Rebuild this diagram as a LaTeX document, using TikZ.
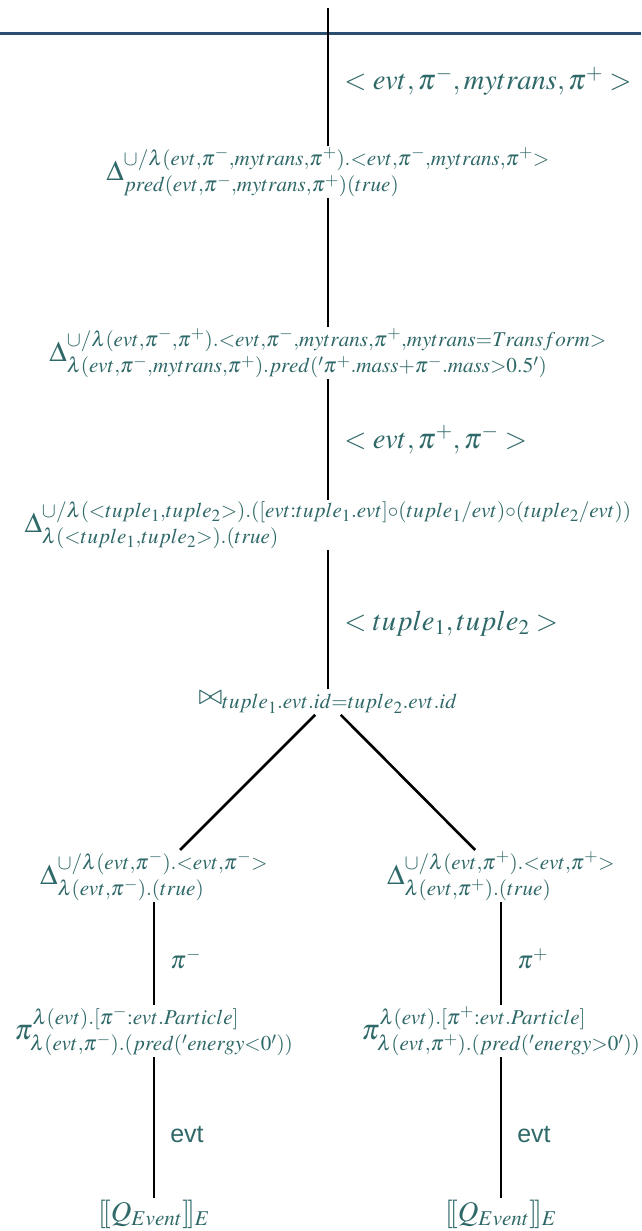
\documentclass[tikz,border=0pt]{standalone}
\usepackage[no-math]{fontspec}
\usepackage{mathptmx}
\setmainfont{Liberation Serif}
\newfontfamily\lblsans{Liberation Sans}
\definecolor{tealtxt}{RGB}{47,104,104}
\definecolor{bluebar}{RGB}{44,78,112}
\begin{document}
\begin{tikzpicture}[x=1pt,y=-1pt,
  txt/.style={text=tealtxt, inner sep=1.5pt, font=\fontsize{28.5}{34}\selectfont},
  lbl/.style={txt, anchor=west, inner sep=0pt, xshift=15pt},
  small/.style={font=\fontsize{25}{30}\selectfont},
  sanslbl/.style={font=\fontsize{25}{30}\lblsans},
  edge/.style={draw=black, line width=2.6pt}]
\useasboundingbox (0,0) rectangle (641,1231);
\fill[white] (0,0) rectangle (641,1231);
% header rule
\draw[bluebar, line width=3pt] (0,34) -- (641,34);
\coordinate (top) at (328,8);
% operator nodes along the main branch
\node[txt] (d1) at (328,172) {$\Delta^{\cup/\lambda(evt,\pi^-,mytrans,\pi^+).<evt,\pi^-,mytrans,\pi^+>}_{pred(evt,\pi^-,mytrans,\pi^+)(true)}$};
\node[txt] (d2) at (328,353) {$\Delta^{\cup/\lambda(evt,\pi^-,\pi^+).<evt,\pi^-,mytrans,\pi^+,mytrans=Transform>}_{\lambda(evt,\pi^-,mytrans,\pi^+).pred('\pi^+.mass+\pi^-.mass>0.5')}$};
\node[txt] (d3) at (328,525) {$\Delta^{\cup/\lambda(<tuple_1,tuple_2>).([evt:tuple_1.evt]\circ(tuple_1/evt)\circ(tuple_2/evt))}_{\lambda(<tuple_1,tuple_2>).(true)}$};
\node[txt] (join) at (328,702) {$\bowtie_{tuple_1.evt.id=tuple_2.evt.id}$};
% left branch
\node[txt] (d4) at (154,876) {$\Delta^{\cup/\lambda(evt,\pi^-).<evt,\pi^->}_{\lambda(evt,\pi^-).(true)}$};
\node[txt] (p4) at (154,1031) {$\pi^{\lambda(evt).[\pi^-:evt.Particle]}_{\lambda(evt,\pi^-).(pred('energy<0'))}$};
\node[txt] (q4) at (154,1214) {$[\![Q_{Event}]\!]_E$};
% right branch
\node[txt] (d5) at (501,876) {$\Delta^{\cup/\lambda(evt,\pi^+).<evt,\pi^+>}_{\lambda(evt,\pi^+).(true)}$};
\node[txt] (p5) at (501,1031) {$\pi^{\lambda(evt).[\pi^+:evt.Particle]}_{\lambda(evt,\pi^+).(pred('energy>0'))}$};
\node[txt] (q5) at (501,1214) {$[\![Q_{Event}]\!]_E$};
% connectors
\draw[edge] (top) -- node[lbl, yshift=-4pt]{$<evt,\pi^-,mytrans,\pi^+>$} (d1);
\draw[edge] (d1) -- (d2);
\draw[edge] (d2) -- node[lbl]{$<evt,\pi^+,\pi^->$} (d3);
\draw[edge] (d3) -- node[lbl, yshift=-4pt]{$<tuple_1,tuple_2>$} (join);
\draw[edge] (join) -- (d4);
\draw[edge] (join) -- (d5);
\draw[edge] (d4) -- node[lbl, small, yshift=-5pt]{$\pi^-$} (p4);
\draw[edge] (d5) -- node[lbl, small, yshift=-5pt]{$\pi^+$} (p5);
\draw[edge] (p4) -- node[lbl, sanslbl, yshift=-7pt]{evt} (q4);
\draw[edge] (p5) -- node[lbl, sanslbl, yshift=-7pt]{evt} (q5);
\end{tikzpicture}
\end{document}
